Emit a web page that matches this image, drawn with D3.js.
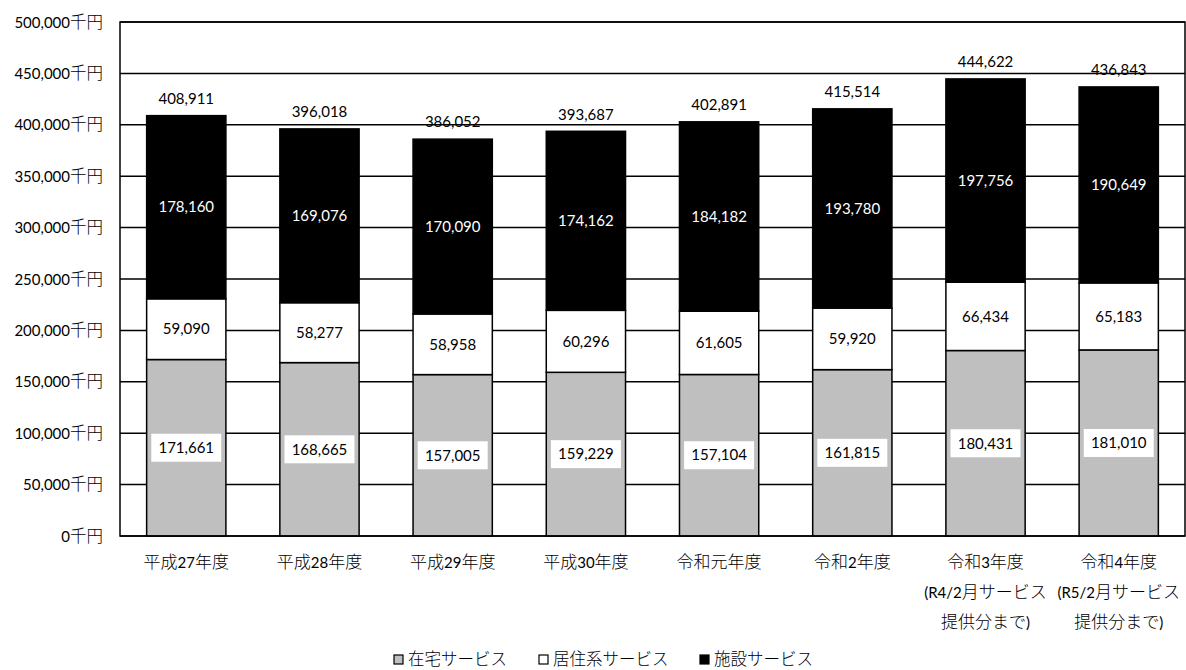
<!DOCTYPE html>
<html>
<head>
<meta charset="utf-8">
<script src="https://cdn.jsdelivr.net/npm/d3@7"></script>
<style>
  body { margin: 0; background: #fff; }
  svg text { font-family: Lato, "Noto Sans CJK JP", sans-serif; }
  .cjk { font-family: "Noto Sans CJK JP", sans-serif; font-weight: 300; }
</style>
</head>
<body>
<svg id="chart" width="1186" height="670"></svg>
<script>
// Fiscal years (label lines)
const categories = [
  ["平成27年度"], ["平成28年度"], ["平成29年度"], ["平成30年度"],
  ["令和元年度"], ["令和2年度"],
  ["令和3年度", "(R4/2月サービス", "提供分まで)"],
  ["令和4年度", "(R5/2月サービス", "提供分まで)"]
];
const seriesNames = ["在宅サービス", "居住系サービス", "施設サービス"];
const homeCare = [171661, 168665, 157005, 159229, 157104, 161815, 180431, 181010];
const residential = [59090, 58277, 58958, 60296, 61605, 59920, 66434, 65183];
const facility = [178160, 169076, 170090, 174162, 184182, 193780, 197756, 190649];
const totals = [408911, 396018, 386052, 393687, 402891, 415514, 444622, 436843];
const yTicks = [0, 50000, 100000, 150000, 200000, 250000, 300000, 350000, 400000, 450000, 500000];

const svg = d3.select("#chart");
const m = { left: 120, top: 22, right: 1185, bottom: 536 };
const fmt = d3.format(",");

// Write mixed Latin / Japanese text: Japanese runs get their own size and weight
function mixedText(sel, str, latinSize, cjkSize) {
  const runs = str.match(/[\u3000-\u9fff\uff00-\uffef]+|[^\u3000-\u9fff\uff00-\uffef]+/g) || [];
  runs.forEach(r => {
    const isCjk = /[\u3000-\u9fff\uff00-\uffef]/.test(r);
    sel.append("tspan")
      .attr("class", isCjk ? "cjk" : null)
      .attr("font-size", isCjk ? cjkSize : latinSize)
      .text(r);
  });
}

const keys = categories.map(c => c[0]);
const x = d3.scaleBand().domain(keys).range([m.left, m.right]).paddingInner(0.405).paddingOuter(0.2);
const y = d3.scaleLinear().domain([0, 500000]).range([m.bottom, m.top]);

const fills = ["#bfbfbf", "#ffffff", "#000000"];
const rows = keys.map((k, i) => ({ key: k, h: homeCare[i], r: residential[i], f: facility[i] }));
const stack = d3.stack().keys(["h", "r", "f"])(rows);

// gridlines
svg.append("g").selectAll("line").data(yTicks).join("line")
  .attr("x1", m.left).attr("x2", m.right)
  .attr("y1", d => y(d)).attr("y2", d => y(d))
  .attr("stroke", "#000").attr("stroke-width", 1.5);

// y tick labels
svg.append("g").selectAll("text").data(yTicks).join("text")
  .attr("x", 103).attr("y", d => y(d)).attr("dy", "0.35em")
  .attr("text-anchor", "end").attr("fill", "#000")
  .each(function (d) { mixedText(d3.select(this), fmt(d) + "千円", 15, 16.5); });

// stacked bars
stack.forEach((layer, li) => {
  svg.append("g").selectAll("rect").data(layer).join("rect")
    .attr("x", d => x(d.data.key))
    .attr("width", x.bandwidth())
    .attr("y", d => y(d[1]))
    .attr("height", d => y(d[0]) - y(d[1]))
    .attr("fill", fills[li])
    .attr("stroke", "#000").attr("stroke-width", 1.5);
});

// plot border
svg.append("rect")
  .attr("x", m.left).attr("y", m.top)
  .attr("width", m.right - m.left).attr("height", m.bottom - m.top)
  .attr("fill", "none").attr("stroke", "#000").attr("stroke-width", 1.5);

// segment labels
stack.forEach((layer, li) => {
  const g = svg.append("g");
  layer.forEach(d => {
    const cx = x(d.data.key) + x.bandwidth() / 2;
    const cy = y((d[0] + d[1]) / 2);
    const v = d[1] - d[0];
    if (li === 0) {
      g.append("rect").attr("x", cx - 35).attr("y", cy - 14)
        .attr("width", 70).attr("height", 28).attr("fill", "#fff");
    }
    g.append("text").attr("x", cx).attr("y", cy).attr("dy", "0.35em")
      .attr("text-anchor", "middle").attr("font-size", 15)
      .attr("fill", li === 2 ? "#fff" : "#000")
      .text(fmt(v));
  });
});

// totals above bars
svg.append("g").selectAll("text").data(rows).join("text")
  .attr("x", d => x(d.key) + x.bandwidth() / 2)
  .attr("y", (d, i) => y(totals[i]) - 17).attr("dy", "0.35em")
  .attr("text-anchor", "middle").attr("font-size", 15).attr("fill", "#000")
  .text((d, i) => fmt(totals[i]));

// category labels
const xg = svg.append("g");
categories.forEach(lines => {
  const cx = x(lines[0]) + x.bandwidth() / 2;
  lines.forEach((t, j) => {
    const tx = xg.append("text").attr("x", cx).attr("y", 562 + j * 30).attr("dy", "0.35em")
      .attr("text-anchor", "middle").attr("fill", "#000");
    mixedText(tx, t, 15, 17);
  });
});

// legend
const legendX = [394, 539, 700];
const lg = svg.append("g");
seriesNames.forEach((name, i) => {
  lg.append("rect").attr("x", legendX[i]).attr("y", 655).attr("width", 9).attr("height", 9)
    .attr("fill", fills[i]).attr("stroke", "#000").attr("stroke-width", 1.2);
  const tx = lg.append("text").attr("x", legendX[i] + 14).attr("y", 659).attr("dy", "0.35em")
    .attr("fill", "#000");
  mixedText(tx, name, 15, 16.5);
});
</script>
</body>
</html>
